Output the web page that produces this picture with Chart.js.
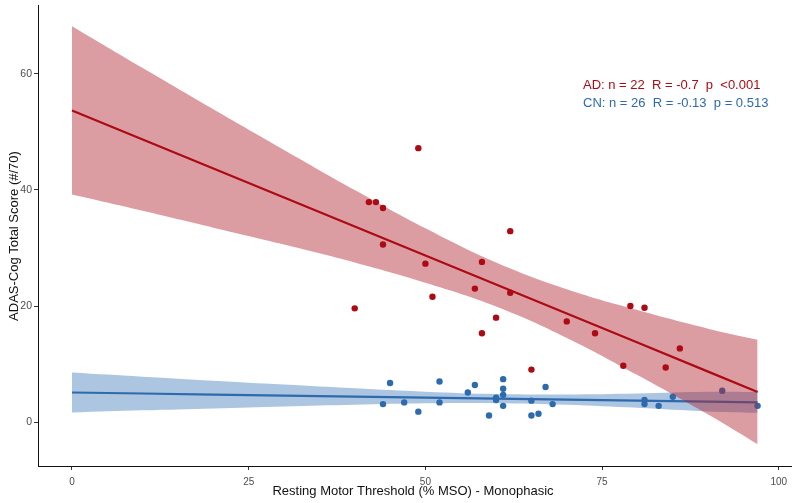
<!DOCTYPE html>
<html>
<head>
<meta charset="utf-8">
<title>ADAS-Cog vs RMT</title>
<script src="https://cdn.jsdelivr.net/npm/chart.js@4.4.0/dist/chart.umd.min.js"></script>
<style>
  html, body { margin: 0; padding: 0; background: #fff; }
  #wrap { width: 795px; height: 503px; }
</style>
</head>
<body>
<div id="wrap"><canvas id="chart1" width="795" height="503"></canvas></div>
<script>
// AD group points (RMT %, ADAS-Cog)
const adX = [40, 42, 43, 44, 44, 49, 50, 51, 57, 58, 58, 60, 62, 62, 65, 70, 74, 78, 79, 81, 84, 86];
const adY = [19.6, 37.9, 37.9, 36.9, 30.6, 47.2, 27.3, 21.6, 23.0, 27.6, 15.3, 18.0, 32.9, 22.3, 9.05, 17.35, 15.3, 9.7, 20.0, 19.7, 9.4, 12.7];

// CN group points
const cnX = [44, 45, 47, 49, 52, 52, 56, 57, 59, 60, 60, 61, 61, 61, 61, 65, 65, 66, 67, 68, 81, 81, 83, 85, 92, 97];
const cnY = [3.1, 6.75, 3.4, 1.8, 7.0, 3.4, 5.1, 6.4, 1.15, 3.8, 4.2, 7.4, 5.75, 4.7, 2.8, 3.7, 1.15, 1.45, 6.05, 3.1, 3.8, 3.1, 2.8, 4.35, 5.4, 2.8];

// fitted lines and confidence bands, read at these x positions
const fitX = [0, 10, 20, 30, 40, 50, 60, 70, 80, 90, 97];
const adFit   = [53.7, 48.7, 43.7, 38.7, 33.7, 28.7, 23.7, 18.7, 13.7, 8.7, 5.2];
const adUpper = [68.2, 61.0, 53.9, 46.9, 40.0, 33.4, 27.5, 22.9, 19.3, 16.1, 14.2];
const adLower = [39.2, 36.4, 33.5, 30.6, 27.5, 24.0, 19.9, 14.5, 8.1, 1.3, -3.8];
const cnFit   = [5.1, 4.93, 4.75, 4.58, 4.4, 4.23, 4.05, 3.88, 3.7, 3.53, 3.4];
const cnUpper = [8.55, 7.83, 7.14, 6.47, 5.82, 5.23, 4.83, 4.77, 4.94, 5.23, 5.2];
const cnLower = [1.65, 2.03, 2.36, 2.69, 2.98, 3.23, 3.27, 2.99, 2.46, 1.83, 1.6];

const xTicks = [0, 25, 50, 75, 100];
const yTicks = [0, 20, 40, 60];

const statsLines = [
  { text: 'AD: n = 22  R = -0.7  p  <0.001', color: '#ad0a14' },
  { text: 'CN: n = 26  R = -0.13  p = 0.513', color: '#2d6aae' }
];

const RED = '#ad0a14';
const RED_BAND = 'rgba(175, 35, 48, 0.45)';
const BLUE = '#2d6aae';
const BLUE_BAND = 'rgba(48, 110, 178, 0.40)';

function toPoints(xs, ys) {
  return xs.map((x, i) => ({ x: x, y: ys[i] }));
}

// draws the stats text and axis titles
const textPlugin = {
  id: 'textPlugin',
  afterDraw(chart) {
    const ctx = chart.ctx;
    ctx.save();
    ctx.font = '13px "Liberation Sans", Arial, sans-serif';
    ctx.textAlign = 'left';
    ctx.textBaseline = 'middle';
    statsLines.forEach((s, i) => {
      ctx.fillStyle = s.color;
      ctx.fillText(s.text, 583, 85 + i * 18);
    });

    ctx.fillStyle = '#111';
    ctx.font = '13px "Liberation Sans", Arial, sans-serif';
    ctx.textAlign = 'center';
    ctx.fillText('Resting Motor Threshold (% MSO) - Monophasic', 413, 491);

    ctx.translate(14, 236);
    ctx.rotate(-Math.PI / 2);
    ctx.fillText('ADAS-Cog Total Score (#/70)', 0, 0);
    ctx.restore();
  }
};

function createChart(chartId) {
  const ctx = document.getElementById(chartId);

  const band = { showLine: true, borderWidth: 0, borderColor: 'transparent', pointRadius: 0, tension: 0.4 };

  new Chart(ctx, {
    type: 'scatter',
    data: {
      datasets: [
        // red group on top
        { label: 'AD points', data: toPoints(adX, adY), backgroundColor: RED, borderColor: RED,
          pointRadius: 3.2, pointHoverRadius: 3.2, borderWidth: 0, order: 1 },
        { label: 'AD fit', data: toPoints(fitX, adFit), showLine: true, borderColor: RED, borderWidth: 2.2,
          pointRadius: 0, fill: false, order: 2 },
        Object.assign({ label: 'AD upper', data: toPoints(fitX, adUpper), backgroundColor: RED_BAND, fill: '+1', order: 3 }, band),
        Object.assign({ label: 'AD lower', data: toPoints(fitX, adLower), fill: false, order: 3 }, band),
        // blue group underneath
        { label: 'CN points', data: toPoints(cnX, cnY), backgroundColor: BLUE, borderColor: BLUE,
          pointRadius: 3.2, pointHoverRadius: 3.2, borderWidth: 0, order: 4 },
        { label: 'CN fit', data: toPoints(fitX, cnFit), showLine: true, borderColor: BLUE, borderWidth: 2.2,
          pointRadius: 0, fill: false, order: 5 },
        Object.assign({ label: 'CN upper', data: toPoints(fitX, cnUpper), backgroundColor: BLUE_BAND, fill: '+1', order: 6 }, band),
        Object.assign({ label: 'CN lower', data: toPoints(fitX, cnLower), fill: false, order: 6 }, band)
      ]
    },
    options: {
      responsive: false,
      animation: false,
      devicePixelRatio: 1,
      layout: { padding: { top: 5, right: 3, left: 0, bottom: 0 } },
      plugins: {
        legend: { display: false },
        tooltip: { enabled: false }
      },
      scales: {
        x: {
          type: 'linear',
          min: -4.81,
          max: 101.84,
          afterFit: s => { s.height = 37; },
          afterBuildTicks: s => { s.ticks = xTicks.map(v => ({ value: v })); },
          ticks: { color: '#4d4d4d', font: { size: 10, family: '"Liberation Sans", Arial, sans-serif' }, padding: 6, maxRotation: 0 },
          grid: { drawOnChartArea: false, drawTicks: true, tickLength: 4, color: '#333' },
          border: { display: true, color: '#111', width: 1 }
        },
        y: {
          type: 'linear',
          min: -7.56,
          max: 71.86,
          afterFit: s => { s.width = 38; s.paddingTop = 0; s.paddingBottom = 0; },
          afterBuildTicks: s => { s.ticks = yTicks.map(v => ({ value: v })); },
          ticks: { color: '#4d4d4d', font: { size: 10.5, family: '"Liberation Sans", Arial, sans-serif' }, padding: 2 },
          grid: { drawOnChartArea: false, drawTicks: true, tickLength: 4, color: '#333' },
          border: { display: true, color: '#111', width: 1 }
        }
      }
    },
    plugins: [textPlugin]
  });
}

document.addEventListener('DOMContentLoaded', function() {
  createChart('chart1');
});
</script>
</body>
</html>
